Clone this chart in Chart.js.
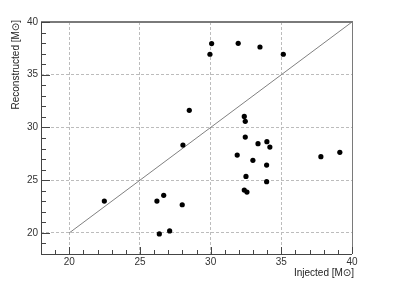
<!DOCTYPE html>
<html>
<head>
<meta charset="utf-8">
<script src="https://cdn.jsdelivr.net/npm/chart.js@4"></script>
<style>
html,body{margin:0;padding:0;background:#fff;}
#c{display:block;}
</style>
</head>
<body>
<canvas id="c" width="415" height="298"></canvas>
<script>
const injected = [30.07, 29.95, 31.95, 33.49, 35.14, 28.49, 32.38, 32.45, 32.45, 33.35, 33.98, 34.19, 31.88, 32.99, 33.96, 37.80, 39.14, 28.04, 32.50, 33.96, 32.38, 32.57, 26.68, 26.20, 27.99, 26.37, 27.10, 22.48];
const reconstructed = [37.95, 36.94, 37.98, 37.63, 36.94, 31.62, 31.05, 30.58, 29.09, 28.46, 28.65, 28.14, 27.38, 26.88, 26.43, 27.23, 27.64, 28.33, 25.36, 24.86, 24.06, 23.87, 23.56, 23.02, 22.67, 19.90, 20.19, 23.02];
const diagonalX = [20, 40];
const diagonalY = [20, 40];
const majorTicks = [20, 25, 30, 35, 40];
const tickLabels = ["20", "25", "30", "35", "40"];
const axisMin = 18, axisMax = 40;
const xTitle = "Injected [M\u2299]";
const yTitle = "Reconstructed [M\u2299]";

const FONT = "'Liberation Sans', Arial, 'DejaVu Sans', sans-serif";

const framePlugin = {
  id: 'frame',
  afterDraw(chart) {
    const ctx = chart.ctx;
    const a = chart.chartArea;
    const xs = chart.scales.x, ys = chart.scales.y;
    ctx.save();
    ctx.strokeStyle = '#7a7a7a';
    ctx.lineWidth = 2;
    ctx.beginPath();
    ctx.moveTo(a.left, a.top);
    ctx.lineTo(a.right + 1, a.top);
    ctx.stroke();
    ctx.lineWidth = 1;
    ctx.beginPath();
    ctx.moveTo(Math.round(a.right) + 0.5, a.top);
    ctx.lineTo(Math.round(a.right) + 0.5, a.bottom);
    ctx.stroke();
    ctx.strokeStyle = '#444';
    ctx.beginPath();
    ctx.moveTo(Math.round(a.left) + 0.5, a.top);
    ctx.lineTo(Math.round(a.left) + 0.5, Math.round(a.bottom) + 0.5);
    ctx.lineTo(a.right, Math.round(a.bottom) + 0.5);
    ctx.stroke();
    ctx.beginPath();
    for (let v = axisMin; v <= axisMax; v++) {
      const major = v % 5 === 0;
      const px = Math.round(xs.getPixelForValue(v)) + 0.5;
      ctx.moveTo(px, a.bottom);
      ctx.lineTo(px, a.bottom - (major ? 7 : 4));
      const py = Math.round(ys.getPixelForValue(v)) + 0.5;
      ctx.moveTo(a.left, py);
      ctx.lineTo(a.left + (major ? 9 : 5), py);
    }
    ctx.stroke();
    ctx.fillStyle = '#222';
    ctx.font = '10px ' + FONT;
    ctx.textAlign = 'right';
    ctx.textBaseline = 'middle';
    ctx.fillText(xTitle, a.right + 2, 273);
    ctx.translate(16, a.top - 2);
    ctx.rotate(-Math.PI / 2);
    ctx.fillText(yTitle, 0, 0);
    ctx.restore();
  }
};

const majorSet = (scale) => {
  scale.ticks = majorTicks.map(v => ({ value: v }));
};
const labelFor = (v) => {
  const i = majorTicks.indexOf(v);
  return i >= 0 ? tickLabels[i] : '';
};

new Chart(document.getElementById('c'), {
  type: 'scatter',
  data: {
    datasets: [
      {
        type: 'line',
        data: diagonalX.map((x, i) => ({ x, y: diagonalY[i] })),
        borderColor: '#808080',
        borderWidth: 1,
        pointRadius: 0,
        fill: false,
        order: 2
      },
      {
        data: injected.map((x, i) => ({ x, y: reconstructed[i] })),
        backgroundColor: '#000',
        borderColor: '#000',
        pointRadius: 2.6,
        borderWidth: 0,
        order: 1
      }
    ]
  },
  options: {
    responsive: false,
    animation: false,
    devicePixelRatio: 1,
    layout: { padding: { top: 22, right: 63, left: 0, bottom: 0 } },
    plugins: { legend: { display: false }, tooltip: { enabled: false } },
    scales: {
      x: {
        type: 'linear',
        min: axisMin, max: axisMax,
        afterBuildTicks: majorSet,
        afterFit(s) { s.height = 44; },
        border: { display: false, dash: [3, 2] },
        grid: { color: '#bcbcbc', lineWidth: 1, drawTicks: false },
        ticks: {
          padding: 2,
          color: '#333',
          font: { family: FONT, size: 10 },
          maxRotation: 0,
          autoSkip: false,
          callback: (v) => labelFor(v)
        }
      },
      y: {
        type: 'linear',
        min: axisMin, max: axisMax,
        afterBuildTicks: majorSet,
        afterFit(s) { s.width = 41; },
        border: { display: false, dash: [3, 2] },
        grid: { color: '#bcbcbc', lineWidth: 1, drawTicks: false },
        ticks: {
          padding: 3,
          color: '#333',
          font: { family: FONT, size: 10 },
          autoSkip: false,
          callback: (v) => labelFor(v)
        }
      }
    }
  },
  plugins: [framePlugin]
});
</script>
</body>
</html>
